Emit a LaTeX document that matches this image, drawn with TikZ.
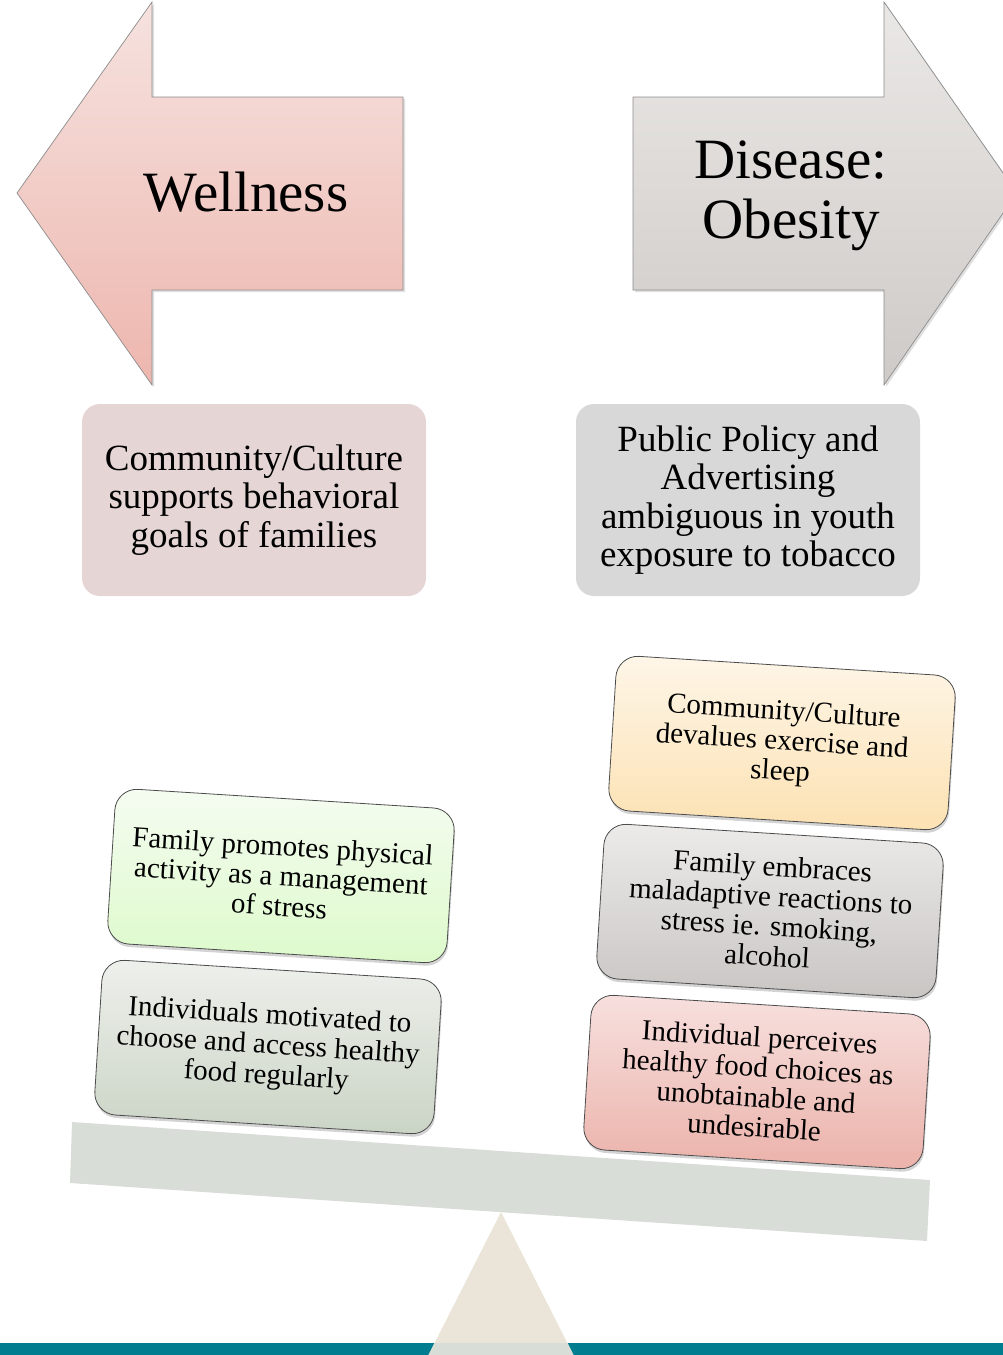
\documentclass[tikz,border=0pt]{standalone}
\usepackage{fontspec}
\setmainfont{Liberation Serif}
\usetikzlibrary{shadows}

\definecolor{wellTop}{HTML}{F6E2DF}
\definecolor{wellBot}{HTML}{EDB6AE}
\definecolor{illTop}{HTML}{EAE8E6}
\definecolor{illBot}{HTML}{CECAC7}
\definecolor{commFill}{HTML}{E5D5D5}
\definecolor{policyFill}{HTML}{D8D8D8}
\definecolor{sunTop}{HTML}{FEF6E8}
\definecolor{sunBot}{HTML}{FCE1B2}
\definecolor{stoneTop}{HTML}{ECEBEA}
\definecolor{stoneBot}{HTML}{C8C5C3}
\definecolor{roseTop}{HTML}{F7E0DE}
\definecolor{roseBot}{HTML}{EBB2AA}
\definecolor{leafTop}{HTML}{F5FCF1}
\definecolor{leafBot}{HTML}{DDFACB}
\definecolor{sageTop}{HTML}{EEF0EC}
\definecolor{sageBot}{HTML}{CAD4C5}
\definecolor{beamFill}{HTML}{D9DDD7}
\definecolor{standFill}{HTML}{EBE5D9}
\definecolor{floorFill}{HTML}{007E8F}

\begin{document}
\begin{tikzpicture}[x=1pt, y=-1pt,
    bigarrow/.style={draw=black!45, line width=0.7pt,
      drop shadow={shadow xshift=2pt, shadow yshift=-2pt, opacity=0.25}},
    topbox/.style={rounded corners=18pt, minimum width=344pt, minimum height=192pt,
      inner sep=0pt, align=center, font=\fontsize{37}{38.5}\selectfont},
    weight/.style={draw=black!70, line width=0.8pt, rounded corners=22pt,
      minimum width=340pt, minimum height=155pt, inner sep=0pt, align=center,
      rotate=-3.6, font=\fontsize{29}{30}\selectfont,
      drop shadow={shadow xshift=1pt, shadow yshift=-3pt, opacity=0.35}}]

  \useasboundingbox (0,0) rectangle (1003,1355);
  \clip (0,0) rectangle (1003,1355);

  % floor and the stand of the scale
  \fill[floorFill] (0,1343) rectangle (1003,1355);
  \fill[standFill] (501,1212) -- (576,1360) -- (426,1360) -- cycle;
  \begin{scope}
    \clip (0,1343) rectangle (1003,1355);
    \fill[beamFill] (501,1212) -- (576,1360) -- (426,1360) -- cycle;
  \end{scope}

  % the beam
  \fill[beamFill] (72,1122) -- (930,1180) -- (927,1241) -- (70,1183) -- cycle;

  % the two arrows
  \draw[bigarrow, top color=wellTop, bottom color=wellBot]
    (17,193) -- (152,2) -- (152,97) -- (403,97) -- (403,290)
    -- (152,290) -- (152,385) -- cycle;
  \node[font=\fontsize{57}{60}\selectfont] (wellness) at (246,192) {Wellness};

  \draw[bigarrow, top color=illTop, bottom color=illBot]
    (633,97) -- (884,97) -- (884,2) -- (1017,193) -- (884,385)
    -- (884,290) -- (633,290) -- cycle;
  \node[align=center, font=\fontsize{57}{60}\selectfont] (disease) at (791,196)
    {Disease:\\Obesity};

  % boxes under the arrows
  \node[topbox, fill=commFill] (community) at (254,500)
    {Community/Culture\\supports behavioral\\goals of families};
  \node[topbox, fill=policyFill] (policy) at (748,500)
    {Public Policy and\\Advertising\\ambiguous in youth\\exposure to tobacco};

  % weights on the left pan
  \node[weight, top color=sageTop, bottom color=sageBot] (individuals) at (268,1047)
    {Individuals motivated to\\choose and access healthy\\food regularly};
  \node[weight, top color=leafTop, bottom color=leafBot] (family) at (281,876)
    {Family promotes physical\\activity as a management\\of stress};

  % weights on the right pan
  \node[weight, top color=roseTop, bottom color=roseBot] (perceives) at (757,1082)
    {Individual perceives\\healthy food choices as\\unobtainable and\\undesirable};
  \node[weight, top color=stoneTop, bottom color=stoneBot] (embraces) at (770,911)
    {Family embraces\\maladaptive reactions to\\stress ie. smoking,\\alcohol};
  \node[weight, top color=sunTop, bottom color=sunBot] (devalues) at (782,743)
    {Community/Culture\\devalues exercise and\\sleep};

\end{tikzpicture}
\end{document}
